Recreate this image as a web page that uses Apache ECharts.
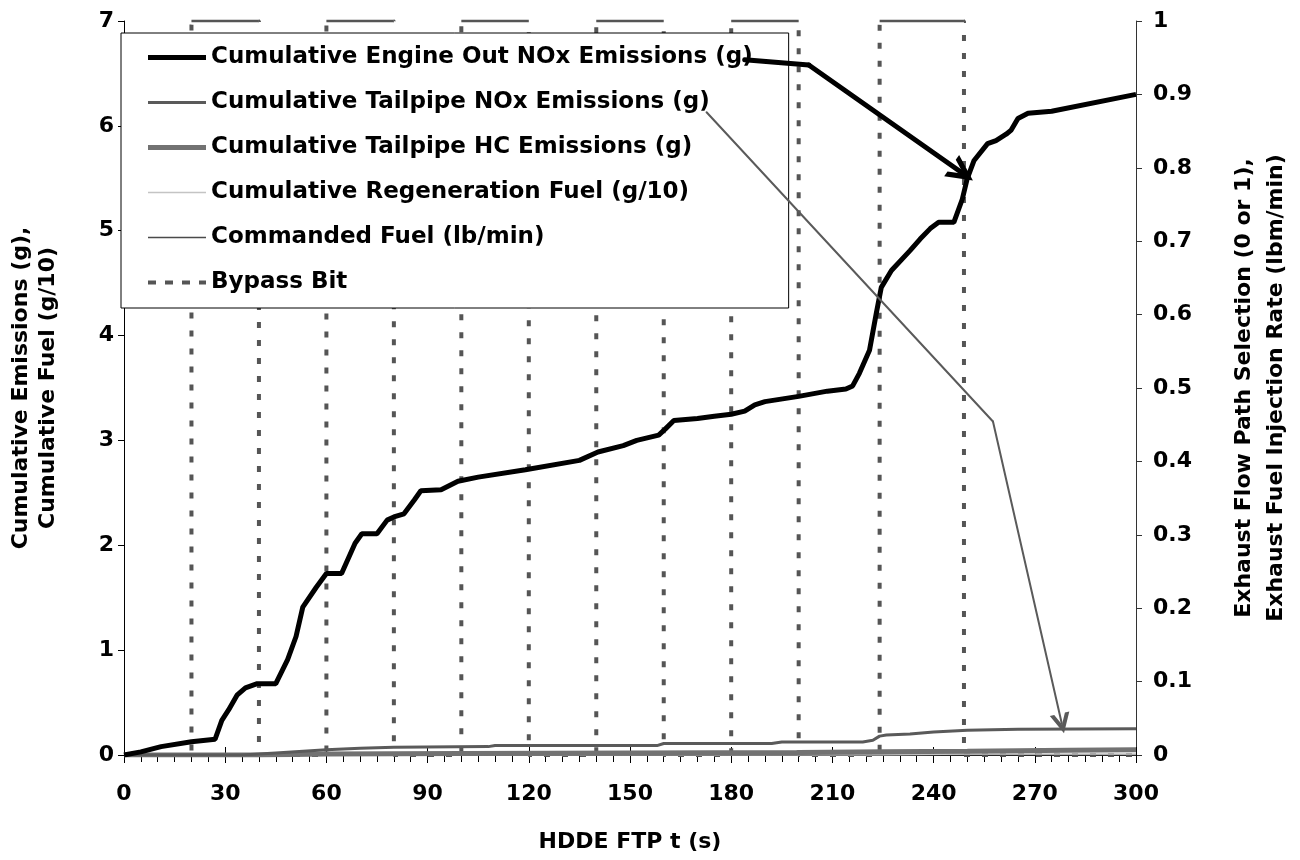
<!DOCTYPE html>
<html><head><meta charset="utf-8">
<script src="https://cdn.jsdelivr.net/npm/echarts@6/dist/echarts.min.js"></script>
<style>html,body{margin:0;padding:0;background:#fff}#c{width:1300px;height:860px}</style>
</head><body><div id="c"></div>
<script>
// ---- data ----
const engineT   = [0, 5, 11, 20, 27, 29, 31, 33.5, 36, 39.5, 45, 48.5, 51, 53, 57, 60, 64.5, 68.5, 70.5, 75, 78, 80, 83, 86, 88, 94, 99, 105, 119, 135, 140.5, 148, 152, 158.5, 160.5, 163, 170, 175, 180, 184, 187, 190, 200, 208.5, 214, 216, 218, 221, 223, 224.5, 227.5, 233, 236, 239, 241.5, 246, 248.5, 250, 252, 256, 258.5, 261.5, 263, 265, 268, 275, 300];
const engineNOx = [0, 0.03, 0.08, 0.127, 0.15, 0.33, 0.43, 0.57, 0.64, 0.68, 0.68, 0.91, 1.13, 1.41, 1.6, 1.73, 1.73, 2.02, 2.11, 2.11, 2.24, 2.27, 2.30, 2.43, 2.52, 2.53, 2.61, 2.65, 2.72, 2.81, 2.89, 2.95, 3.0, 3.05, 3.11, 3.19, 3.21, 3.23, 3.25, 3.28, 3.34, 3.37, 3.42, 3.47, 3.49, 3.52, 3.64, 3.86, 4.21, 4.46, 4.62, 4.81, 4.92, 5.02, 5.08, 5.08, 5.3, 5.5, 5.67, 5.83, 5.86, 5.92, 5.96, 6.07, 6.12, 6.14, 6.3];

const tailNOxT  = [0, 35, 45, 60, 70, 80, 108, 110, 140, 158, 160, 192, 195, 219, 222, 224, 226, 233, 240, 250, 265, 300];
const tailNOx   = [0, 0, 0.02, 0.05, 0.065, 0.075, 0.08, 0.09, 0.09, 0.09, 0.11, 0.11, 0.125, 0.125, 0.14, 0.18, 0.19, 0.2, 0.22, 0.235, 0.245, 0.25];

const tailHCT   = [0, 40, 60, 100, 150, 200, 225, 250, 280, 300];
const tailHC    = [0, 0, 0.01, 0.015, 0.02, 0.025, 0.03, 0.035, 0.045, 0.05];

const regenT    = [0, 224, 249, 300];
const regenFuel = [0, 0, 0.01, 0.01];

const cmdT      = [0, 300];
const cmdFuel   = [0, 0];

const bypassT   = [0, 20, 20, 40, 40, 60, 60, 80, 80, 100, 100, 120, 120, 140, 140, 160, 160, 180, 180, 200, 200, 224, 224, 249, 249, 300];
const bypassBit = [0, 0, 1, 1, 0, 0, 1, 1, 0, 0, 1, 1, 0, 0, 1, 1, 0, 0, 1, 1, 0, 0, 1, 1, 0, 0];

const xTickLabels = [0, 30, 60, 90, 120, 150, 180, 210, 240, 270, 300];

// annotation arrows (left-axis units)
const arrowEngine   = [[184, 6.63], [203, 6.58], [248.5, 5.55]];
const arrowTailpipe = [[172.7, 6.13], [257.6, 3.18], [278, 0.30]];

const names = [
  'Cumulative Engine Out NOx Emissions (g)',
  'Cumulative Tailpipe NOx Emissions (g)',
  'Cumulative Tailpipe HC Emissions (g)',
  'Cumulative Regeneration Fuel (g/10)',
  'Commanded Fuel (lb/min)',
  'Bypass Bit'
];

// ---- helpers ----
const zip = (ts, vs) => ts.map((t, i) => [t, vs[i]]);
const FONT = 'DejaVu Sans';
const bypassPairs = zip(bypassT, bypassBit);
const bypassTop = [];
for (let i = 0; i < bypassPairs.length - 1; i++) {
  if (bypassPairs[i][1] === 1 && bypassPairs[i + 1][1] === 1) {
    bypassTop.push(bypassPairs[i], bypassPairs[i + 1], [bypassPairs[i + 1][0], null]);
  }
}
const chevron = 'path://M0,20 L10,0 L20,20 L15.5,20 L10,9 L4.5,20 Z';
function arrowSeries(pts, color, width, size) {
  const out = [];
  for (let i = 0; i < pts.length - 1; i++) {
    const last = i === pts.length - 2;
    out.push({
      type: 'lines', coordinateSystem: 'cartesian2d', xAxisIndex: 0, yAxisIndex: 0,
      silent: true, z: 10,
      symbol: last ? ['none', chevron] : ['none', 'none'],
      symbolSize: size,
      lineStyle: { color: color, width: width, opacity: 1, curveness: 0, cap: 'round' },
      data: [{ coords: [pts[i], pts[i + 1]] }]
    });
  }
  return out;
}
const lineBase = (name, data, color, width, yIdx, extra) => Object.assign({
  name: name, type: 'line', data: data, yAxisIndex: yIdx, symbol: 'none', showSymbol: false,
  lineStyle: { color: color, width: width }, itemStyle: { color: color }, animation: false
}, extra || {});

const bar = h => 'path://M0,0H58V' + h + 'H0Z';
const dashIcon = 'path://M0,0H8V4H0Z M17,0H25V4H17Z M34,0H42V4H34Z M51,0H58V4H51Z';
const legendIcons = [bar(5), bar(3), bar(5), bar(1.5), bar(1.5), dashIcon];

const labelStyle = { fontFamily: FONT, fontWeight: 'bold', fontSize: 22, color: '#000' };

const chart = echarts.init(document.getElementById('c'), null, { renderer: 'canvas' });
chart.setOption({
  animation: false,
  backgroundColor: '#fff',
  grid: { left: 110, right: 130, top: 21, bottom: 105, containLabel: false },
  legend: {
    data: names.map((n, i) => ({ name: n, icon: legendIcons[i] })),
    orient: 'vertical', left: 121, top: 33,
    itemWidth: 58, itemHeight: 22, itemGap: 22,
    symbolKeepAspect: true,
    padding: [13, 36, 14, 27],
    borderColor: '#000', borderWidth: 1, backgroundColor: '#fff',
    textStyle: { fontFamily: FONT, fontWeight: 'bold', fontSize: 23, color: '#000' },
    selectedMode: false
  },
  xAxis: [{
    type: 'value', min: 0, max: 300, interval: 30, position: 'bottom',
    axisLine: { show: true, onZero: false, lineStyle: { color: '#000', width: 1 } },
    axisTick: { show: true, length: 8, lineStyle: { color: '#000' } },
    minorTick: { show: true, splitNumber: 6, length: 7, lineStyle: { color: '#000' } },
    splitLine: { show: false }, minorSplitLine: { show: false },
    axisLabel: Object.assign({ margin: 28, formatter: v => xTickLabels.includes(v) ? String(v) : '' }, labelStyle),
    name: 'HDDE FTP t (s)', nameLocation: 'middle', nameGap: 76,
    nameTextStyle: Object.assign({}, labelStyle)
  }, {
    type: 'value', min: 0, max: 300, interval: 30, position: 'bottom',
    axisLine: { show: false, onZero: false }, axisLabel: { show: false }, splitLine: { show: false },
    axisTick: { show: true, inside: true, length: 8, lineStyle: { color: '#000' } }
  }],
  yAxis: [{
    type: 'value', min: 0, max: 7, interval: 1, position: 'left',
    axisLine: { show: true, onZero: false, lineStyle: { color: '#000', width: 1 } },
    axisTick: { show: true, length: 6, lineStyle: { color: '#000' } },
    minorTick: { show: false },
    splitLine: { show: false },
    axisLabel: Object.assign({ margin: 10 }, labelStyle),
    name: 'Cumulative Emissions (g),\nCumulative Fuel (g/10)', nameLocation: 'middle', nameGap: 62, nameRotate: 90,
    nameTextStyle: Object.assign({ lineHeight: 27 }, labelStyle)
  }, {
    type: 'value', min: 0, max: 1, interval: 0.1, position: 'right',
    axisLine: { show: true, onZero: false, lineStyle: { color: '#333', width: 1 } },
    axisTick: { show: true, length: 6, lineStyle: { color: '#333' } },
    minorTick: { show: false },
    splitLine: { show: false },
    axisLabel: Object.assign({ margin: 17 }, labelStyle),
    name: 'Exhaust Flow Path Selection (0 or 1),\nExhaust Fuel Injection Rate (lbm/min)', nameLocation: 'middle', nameGap: 92, nameRotate: 90,
    nameTextStyle: Object.assign({ lineHeight: 32 }, labelStyle)
  }],
  series: [
    lineBase(names[5], bypassPairs, '#555', 4, 1, { lineStyle: { color: '#555', width: 4, type: [6, 12] }, z: 1 }),
    lineBase(null, bypassTop, '#fff', 7, 1, { clip: false, z: 1, connectNulls: false, lineStyle: { color: '#fff', width: 7 } }),
    lineBase(null, bypassTop, '#555', 2.5, 1, { clip: false, z: 1, connectNulls: false }),
    lineBase(names[4], zip(cmdT, cmdFuel), '#4a4a4a', 1.5, 1, { z: 2 }),
    lineBase(names[3], zip(regenT, regenFuel), '#c4c4c4', 1.5, 0, { z: 2 }),
    lineBase(names[2], zip(tailHCT, tailHC), '#727272', 5, 0, { z: 3 }),
    lineBase(names[1], zip(tailNOxT, tailNOx), '#5a5a5a', 3, 0, { z: 3 }),
    lineBase(names[0], zip(engineT, engineNOx), '#000', 5, 0, { z: 5 })
  ].concat(arrowSeries(arrowEngine, '#000', 5, 26))
   .concat(arrowSeries(arrowTailpipe, '#5a5a5a', 2, 20))
});
</script>
</body></html>
